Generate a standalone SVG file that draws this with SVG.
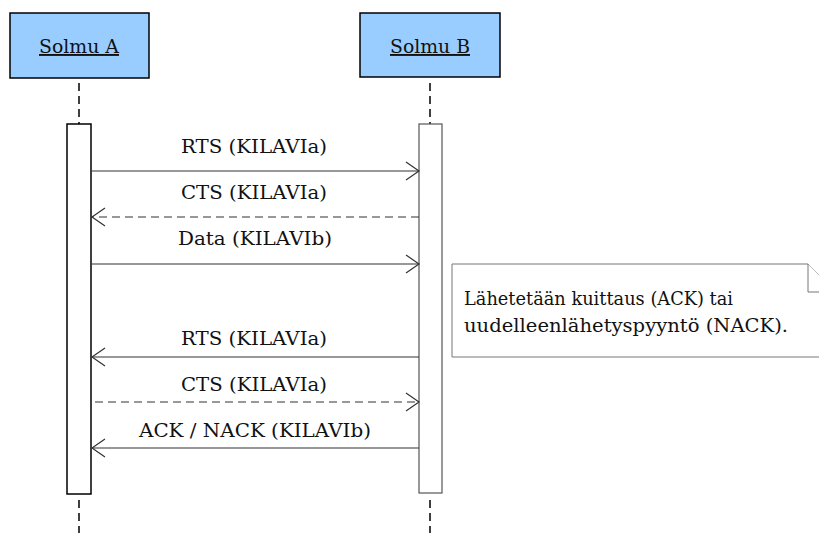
<svg xmlns="http://www.w3.org/2000/svg" width="819" height="533" viewBox="0 0 819 533">
<style>
.hdr{fill:#99CCFF;stroke:#000;stroke-width:1.5}
.act{fill:#fff;stroke:#000;stroke-width:1.5}
.life{stroke:#000;stroke-width:1.5;stroke-dasharray:8,5;fill:none}
.msg{stroke:#333;stroke-width:1.2;fill:none}
.dash{stroke-dasharray:8,5}
.t{font-family:"DejaVu Serif","Liberation Serif",serif;font-size:19px;fill:#111}
.note{fill:#fff;stroke:#777;stroke-width:1}
</style>
<defs>
<marker id="ah" markerWidth="16" markerHeight="22" refX="14" refY="10" orient="auto" markerUnits="userSpaceOnUse">
<path d="M1,1 L14,10 L1,19" fill="none" stroke="#333" stroke-width="1.2"/>
</marker>
</defs>
<rect width="819" height="533" fill="#fff"/>
<g id="lifelines">
<line class="life" x1="79" y1="83" x2="79" y2="124"/>
<line class="life" x1="430" y1="83" x2="430" y2="124"/>
<line class="life" x1="79" y1="500" x2="79" y2="533"/>
<line class="life" x1="430" y1="500" x2="430" y2="533"/>
</g>
<g id="nodeA">
<rect class="hdr" x="10" y="13" width="139" height="65"/>
<text class="t" x="79" y="53" text-anchor="middle" text-decoration="underline" textLength="80" lengthAdjust="spacingAndGlyphs">Solmu A</text>
</g>
<g id="nodeB">
<rect class="hdr" x="360" y="13" width="140" height="64"/>
<text class="t" x="430" y="53" text-anchor="middle" text-decoration="underline" textLength="80" lengthAdjust="spacingAndGlyphs">Solmu B</text>
</g>
<g id="activationA">
<rect class="act" x="67" y="124" width="24" height="370"/>
</g>
<g id="activationB">
<rect class="act" x="419" y="124" width="23" height="369" style="stroke:#555;stroke-width:1.2"/>
</g>
<g id="note">
<path class="note" d="M452,264 H808 L836,292 V357 H452 Z"/>
<path class="note" d="M808,264 V292 H836" fill="none"/>
<text class="t" x="464" y="305" textLength="269" lengthAdjust="spacingAndGlyphs">Lähetetään kuittaus (ACK) tai</text>
<text class="t" x="464" y="332" textLength="324" lengthAdjust="spacingAndGlyphs">uudelleenlähetyspyyntö (NACK).</text>
</g>
<g id="connectors">
<line class="msg" x1="91" y1="171" x2="419" y2="171" marker-end="url(#ah)"/>
<line class="msg dash" x1="419" y1="217" x2="92" y2="217" marker-end="url(#ah)"/>
<line class="msg" x1="91" y1="264" x2="419" y2="264" marker-end="url(#ah)"/>
<line class="msg" x1="419" y1="357" x2="92" y2="357" marker-end="url(#ah)"/>
<line class="msg dash" x1="95" y1="402" x2="419" y2="402" marker-end="url(#ah)"/>
<line class="msg" x1="419" y1="448" x2="92" y2="448" marker-end="url(#ah)"/>
</g>
<g id="labels">
<text class="t" x="254" y="153" text-anchor="middle" textLength="146" lengthAdjust="spacingAndGlyphs">RTS (KILAVIa)</text>
<text class="t" x="254" y="199" text-anchor="middle" textLength="146" lengthAdjust="spacingAndGlyphs">CTS (KILAVIa)</text>
<text class="t" x="255" y="245" text-anchor="middle" textLength="154" lengthAdjust="spacingAndGlyphs">Data (KILAVIb)</text>
<text class="t" x="254" y="345" text-anchor="middle" textLength="146" lengthAdjust="spacingAndGlyphs">RTS (KILAVIa)</text>
<text class="t" x="254" y="391" text-anchor="middle" textLength="146" lengthAdjust="spacingAndGlyphs">CTS (KILAVIa)</text>
<text class="t" x="255" y="437" text-anchor="middle" textLength="232" lengthAdjust="spacingAndGlyphs">ACK / NACK (KILAVIb)</text>
</g>
</svg>
